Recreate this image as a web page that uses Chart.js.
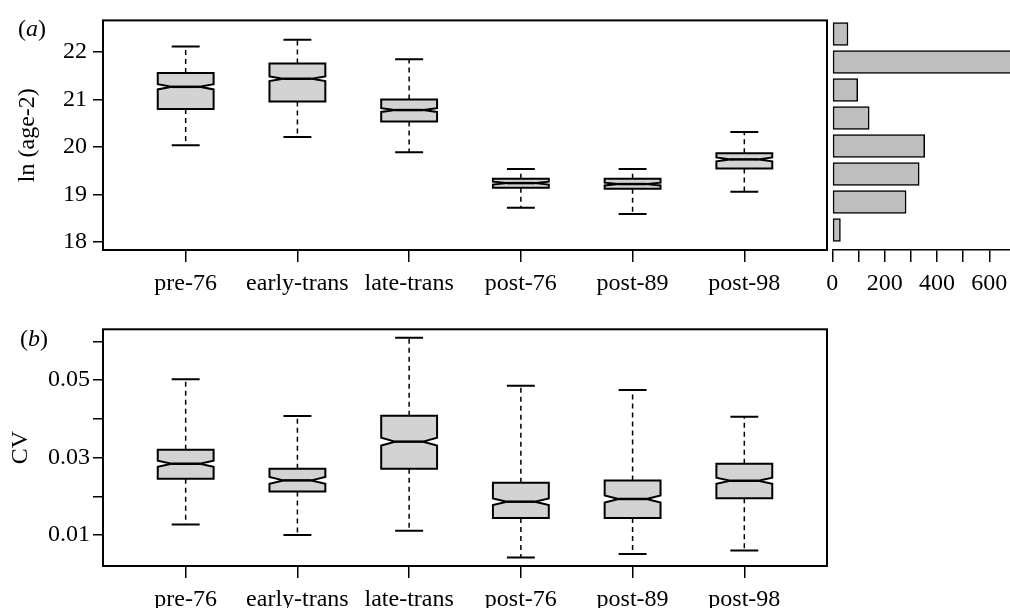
<!DOCTYPE html>
<html>
<head>
<meta charset="utf-8">
<script src="https://cdn.jsdelivr.net/npm/chart.js@4.4.0/dist/chart.umd.min.js"></script>
<style>
  body { margin: 0; background: #fff; width: 1010px; height: 608px; overflow: hidden; position: relative; }
  canvas { position: absolute; }
  .tag { position: absolute; font-family: "Liberation Serif"; font-size: 24px; line-height: 24px; color: #000; }
</style>
</head>
<body>
<canvas id="chartA" width="830" height="300" style="left:0;top:0"></canvas>
<canvas id="chartH" width="195" height="300" style="left:815px;top:0"></canvas>
<canvas id="chartB" width="830" height="308" style="left:0;top:300px"></canvas>
<div class="tag" style="left:18px;top:16px">(<i>a</i>)</div>
<div class="tag" style="left:20px;top:326px">(<i>b</i>)</div>
<script>
// Categorias comunes a los dos paneles
var groups = ["pre-76", "early-trans", "late-trans", "post-76", "post-89", "post-98"];

// Panel (a): ln(age-2)
var ageLo = [20.04, 20.21, 19.89, 18.72, 18.59, 19.06];
var ageQ1 = [20.80, 20.96, 20.54, 19.14, 19.12, 19.55];
var ageMed = [21.27, 21.44, 20.78, 19.24, 19.22, 19.74];
var ageQ3 = [21.56, 21.76, 21.00, 19.33, 19.33, 19.87];
var ageHi = [22.12, 22.26, 21.85, 19.54, 19.54, 20.32];
var ageNotch = [0.055, 0.05, 0.04, 0.03, 0.03, 0.04];
var ageTicks = [18, 19, 20, 21, 22];
var ageTickLabels = ["18", "19", "20", "21", "22"];

// Histograma lateral (de arriba hacia abajo)
var histCounts = [60, 720, 97, 141, 353, 332, 282, 31];
var histTicks = [0, 100, 200, 300, 400, 500, 600];
var histTickLabels = ["0", "", "200", "", "400", "", "600"];

// Panel (b): CV
var cvLo = [0.0127, 0.0100, 0.0111, 0.0042, 0.0051, 0.0060];
var cvQ1 = [0.0245, 0.0212, 0.0271, 0.0144, 0.0144, 0.0195];
var cvMed = [0.0284, 0.0241, 0.0341, 0.0186, 0.0193, 0.0240];
var cvQ3 = [0.0320, 0.0271, 0.0408, 0.0235, 0.0241, 0.0284];
var cvHi = [0.0502, 0.0407, 0.0609, 0.0485, 0.0474, 0.0405];
var cvNotch = [0.0008, 0.0009, 0.0010, 0.00085, 0.0009, 0.0008];
var cvTicks = [0.01, 0.02, 0.03, 0.04, 0.05, 0.06];
var cvTickLabels = ["0.01", "", "0.03", "", "0.05", ""];

Chart.defaults.font.family = "Liberation Serif";
Chart.defaults.font.size = 24;
Chart.defaults.color = "#000";

// Dibuja cajas con muesca, bigotes y el marco del panel
var boxPlugin = {
  id: "boxes",
  afterDraw: function (chart) {
    var st = chart.data.datasets[0].stats;
    var xs = chart.scales.x;
    var ys = chart.scales.y;
    var ctx = chart.ctx;
    var unit = xs.getPixelForValue(2) - xs.getPixelForValue(1);
    var hw = unit * 0.25;
    var cap = unit * 0.125;
    ctx.save();
    ctx.strokeStyle = "#000";
    for (var i = 0; i < st.med.length; i++) {
      var x = xs.getPixelForValue(i + 1);
      var yLo = ys.getPixelForValue(st.lo[i]);
      var yQ1 = ys.getPixelForValue(st.q1[i]);
      var yMed = ys.getPixelForValue(st.med[i]);
      var yQ3 = ys.getPixelForValue(st.q3[i]);
      var yHi = ys.getPixelForValue(st.hi[i]);
      var yNLo = ys.getPixelForValue(st.med[i] - st.notch[i]);
      var yNHi = ys.getPixelForValue(st.med[i] + st.notch[i]);

      // bigotes discontinuos
      ctx.lineWidth = 1.5;
      ctx.setLineDash([5, 4]);
      ctx.beginPath();
      ctx.moveTo(x, yQ3);
      ctx.lineTo(x, yHi);
      ctx.moveTo(x, yQ1);
      ctx.lineTo(x, yLo);
      ctx.stroke();
      ctx.setLineDash([]);
      ctx.lineWidth = 2;
      ctx.beginPath();
      ctx.moveTo(x - cap, yHi);
      ctx.lineTo(x + cap, yHi);
      ctx.moveTo(x - cap, yLo);
      ctx.lineTo(x + cap, yLo);
      ctx.stroke();

      // caja con muesca
      ctx.beginPath();
      ctx.moveTo(x - hw, yQ1);
      ctx.lineTo(x - hw, yNLo);
      ctx.lineTo(x - hw / 2, yMed);
      ctx.lineTo(x - hw, yNHi);
      ctx.lineTo(x - hw, yQ3);
      ctx.lineTo(x + hw, yQ3);
      ctx.lineTo(x + hw, yNHi);
      ctx.lineTo(x + hw / 2, yMed);
      ctx.lineTo(x + hw, yNLo);
      ctx.lineTo(x + hw, yQ1);
      ctx.closePath();
      ctx.fillStyle = "#d3d3d3";
      ctx.fill();
      ctx.lineWidth = 2;
      ctx.stroke();

      // mediana
      ctx.lineWidth = 2.5;
      ctx.beginPath();
      ctx.moveTo(x - hw / 2, yMed);
      ctx.lineTo(x + hw / 2, yMed);
      ctx.stroke();
    }
    // marco
    var ca = chart.chartArea;
    ctx.lineWidth = 2;
    ctx.strokeRect(ca.left, ca.top, ca.right - ca.left, ca.bottom - ca.top);
    ctx.restore();
  }
};

function groupAxis(height) {
  return {
    type: "linear",
    min: 0.26,
    max: 6.74,
    afterBuildTicks: function (s) {
      s.ticks = groups.map(function (g, i) { return { value: i + 1 }; });
    },
    afterFit: function (s) { s.height = height; },
    ticks: {
      autoSkip: false,
      maxRotation: 0,
      padding: 7,
      callback: function (v, i) { return groups[i]; }
    },
    grid: { drawOnChartArea: false, tickLength: 12, color: "#000", lineWidth: 1.5 },
    border: { display: false }
  };
}

function valueAxis(min, max, ticks, labels, title, titlePad, labelPad) {
  return {
    type: "linear",
    min: min,
    max: max,
    afterBuildTicks: function (s) {
      s.ticks = ticks.map(function (v) { return { value: v }; });
    },
    afterFit: function (s) { s.width = 103; },
    ticks: {
      padding: labelPad,
      callback: function (v, i) { return labels[i]; }
    },
    grid: { drawOnChartArea: false, tickLength: 10, color: "#000", lineWidth: 1.5 },
    border: { display: false },
    title: { display: true, text: title, padding: { top: titlePad, bottom: 0 } }
  };
}

function boxChart(id, stats, yAxis, padTop, xHeight) {
  return new Chart(document.getElementById(id), {
    type: "scatter",
    data: {
      datasets: [{
        data: stats.med.map(function (m, i) { return { x: i + 1, y: m }; }),
        pointRadius: 0,
        pointHoverRadius: 0,
        stats: stats
      }]
    },
    options: {
      responsive: false,
      animation: false,
      events: [],
      layout: { padding: { top: padTop, right: 3, left: 0, bottom: 0 } },
      plugins: { legend: { display: false }, tooltip: { enabled: false } },
      scales: { x: groupAxis(xHeight), y: yAxis }
    },
    plugins: [boxPlugin]
  });
}

boxChart("chartA",
  { lo: ageLo, q1: ageQ1, med: ageMed, q3: ageQ3, hi: ageHi, notch: ageNotch },
  valueAxis(17.83, 22.67, ageTicks, ageTickLabels, "ln (age-2)", 13, 6),
  14, 50);

boxChart("chartB",
  { lo: cvLo, q1: cvQ1, med: cvMed, q3: cvQ3, hi: cvHi, notch: cvNotch },
  valueAxis(0.0020, 0.0631, cvTicks, cvTickLabels, "CV", 6, 3),
  29.3, 42);

// Histograma horizontal
new Chart(document.getElementById("chartH"), {
  type: "bar",
  data: {
    datasets: [{
      data: histCounts.map(function (c, i) { return { x: c, y: i + 1 }; }),
      backgroundColor: "#bfbfbf",
      borderColor: "#000",
      borderWidth: 1.5,
      borderSkipped: false,
      barThickness: 23
    }]
  },
  options: {
    indexAxis: "y",
    responsive: false,
    animation: false,
    events: [],
    layout: { padding: { top: 14, left: 17.3, right: 0, bottom: 0 } },
    plugins: { legend: { display: false }, tooltip: { enabled: false } },
    scales: {
      y: {
        type: "linear", display: false, reverse: true, offset: false,
        min: 0.286, max: 8.714,
        afterBuildTicks: function (s) {
          s.ticks = histCounts.map(function (c, i) { return { value: i + 1 }; });
        }
      },
      x: {
        type: "linear",
        min: 0,
        max: 679,
        afterBuildTicks: function (s) {
          s.ticks = histTicks.map(function (v) { return { value: v }; });
        },
        afterFit: function (s) {
          s.height = 50;
          s.paddingLeft = 0;
          s.paddingRight = 0;
        },
        ticks: {
          autoSkip: false,
          maxRotation: 0,
          padding: 7,
          callback: function (v, i) { return histTickLabels[i]; }
        },
        grid: { drawOnChartArea: false, tickLength: 12, color: "#000", lineWidth: 1.5 },
        border: { display: true, color: "#000", width: 1.5 }
      }
    }
  }
});
</script>
</body>
</html>
